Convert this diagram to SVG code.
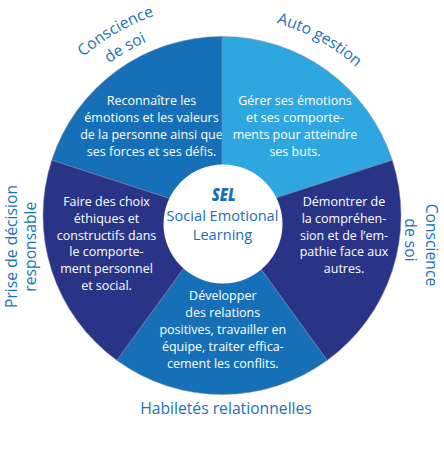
<svg xmlns="http://www.w3.org/2000/svg" width="444" height="449" viewBox="0 0 444 449">
<style>
.seg{stroke:#7d83a3;stroke-width:0.5}
.mid{fill:#1670b7}
.light{fill:#2ea7e0}
.navy{fill:#2a3487}
.t{font-family:"Open Sans","Noto Sans","Liberation Sans",sans-serif;font-size:12.5px;font-weight:500;fill:#ffffff;text-anchor:middle}
.lab{font-family:"Open Sans","Noto Sans","Liberation Sans",sans-serif;font-size:15.7px;font-weight:500;fill:#1a72b9}
.c{font-family:"Open Sans","Noto Sans","Liberation Sans",sans-serif;font-size:14.6px;font-weight:500;fill:#1a6fb6;text-anchor:middle}
</style>
<defs>
<path id="arcOuter" d="M24.1,143.5 A211,211 0 0 1 258.6,7.7"/>
<path id="arcInner" d="M43.9,150.7 A189.5,189.5 0 0 1 254.9,28.9"/>
<path id="arcAuto" d="M183.8,19.2 A200,200 0 0 1 408.7,143.8"/>
</defs>
<rect width="444" height="449" fill="#ffffff"/>
<g id="conscience-soi-1">
<path class="seg mid" d="M222,215.5 L51.76,160.19 A179,179 0 0 1 222,36.5 Z"/>
<text class="t"><tspan x="151.5" y="105">Reconnaître les</tspan><tspan x="151.5" y="122">émotions et les valeurs</tspan><tspan x="151.5" y="139">de la personne ainsi que</tspan><tspan x="151.5" y="156">ses forces et ses défis.</tspan></text>
<text class="lab" text-anchor="middle"><textPath href="#arcOuter" startOffset="50%">Conscience</textPath></text>
<text class="lab" text-anchor="middle"><textPath href="#arcInner" startOffset="50%">de soi</textPath></text>
</g>
<g id="auto-gestion">
<path class="seg light" d="M222,215.5 L222,36.5 A179,179 0 0 1 392.24,160.19 Z"/>
<text class="t"><tspan x="295" y="105">Gérer ses émotions</tspan><tspan x="295" y="122">et ses comporte-</tspan><tspan x="295" y="139">ments pour atteindre</tspan><tspan x="295" y="156">ses buts.</tspan></text>
<text class="lab" text-anchor="middle"><textPath href="#arcAuto" startOffset="50%">Auto gestion</textPath></text>
</g>
<g id="conscience-soi-2">
<path class="seg navy" d="M222,215.5 L392.24,160.19 A179,179 0 0 1 327.21,360.31 Z"/>
<text class="t"><tspan x="344" y="206">Démontrer de</tspan><tspan x="344" y="222.8">la compréhen-</tspan><tspan x="344" y="239.6">sion et de l’em-</tspan><tspan x="344" y="256.4">pathie face aux</tspan><tspan x="344" y="273.2">autres.</tspan></text>
<text class="lab" text-anchor="middle" transform="translate(426,245) rotate(90)">Conscience</text>
<text class="lab" text-anchor="middle" transform="translate(405,240) rotate(90)">de soi</text>
</g>
<g id="habiletes-relationnelles">
<path class="seg mid" d="M222,215.5 L327.21,360.31 A179,179 0 0 1 116.79,360.31 Z"/>
<text class="t"><tspan x="222.8" y="300">Développer</tspan><tspan x="222.8" y="317">des relations</tspan><tspan x="222.8" y="334">positives, travailler en</tspan><tspan x="222.8" y="351">équipe, traiter effica-</tspan><tspan x="222.8" y="367.5">cement les conflits.</tspan></text>
<text class="lab" text-anchor="middle" x="226" y="414">Habiletés relationnelles</text>
</g>
<g id="prise-decision">
<path class="seg navy" d="M222,215.5 L116.79,360.31 A179,179 0 0 1 51.76,160.19 Z"/>
<text class="t"><tspan x="106.5" y="206">Faire des choix</tspan><tspan x="106.5" y="222.8">éthiques et</tspan><tspan x="106.5" y="239.6">constructifs dans</tspan><tspan x="106.5" y="256.4">le comporte-</tspan><tspan x="106.5" y="273.2">ment personnel</tspan><tspan x="106.5" y="290">et social.</tspan></text>
<text class="lab" text-anchor="middle" transform="translate(16.5,246.5) rotate(-90)">Prise de décision</text>
<text class="lab" text-anchor="middle" transform="translate(36,246.7) rotate(-90)">responsable</text>
</g>
<g id="sel-center">
<circle cx="223" cy="224" r="59.5" fill="#ffffff"/>
<text x="223.8" y="201" font-family="'Open Sans','Liberation Sans',sans-serif" font-size="18" font-weight="800" font-style="italic" fill="#1a6fb6" text-anchor="middle" textLength="24" lengthAdjust="spacingAndGlyphs">SEL</text>
<text class="c" x="222.5" y="221">Social Emotional</text>
<text class="c" x="222.5" y="240">Learning</text>
</g>
</svg>
